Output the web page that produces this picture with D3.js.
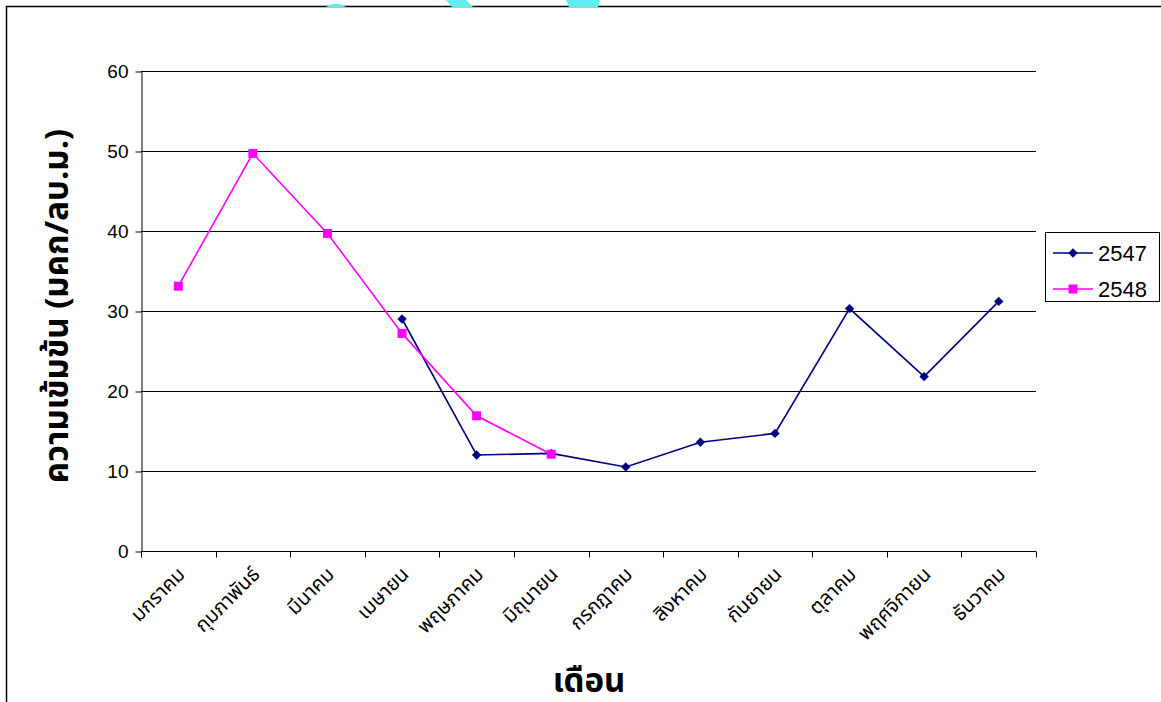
<!DOCTYPE html>
<html>
<head>
<meta charset="utf-8">
<script src="https://cdn.jsdelivr.net/npm/d3@7"></script>
<style>
  html, body { margin: 0; padding: 0; background: #fff; }
  svg { display: block; }
  text { font-family: Arial, "Liberation Sans", sans-serif; }
  .thai { font-family: Tahoma, "Noto Sans Thai", "Noto Sans", "DejaVu Sans", sans-serif; }
</style>
</head>
<body>
<svg id="chart" width="1161" height="702"></svg>
<script>
// Monthly concentration (µg/m³) for two Buddhist-era years
const months = ["มกราคม", "กุมภาพันธ์", "มีนาคม", "เมษายน", "พฤษภาคม", "มิถุนายน",
                "กรกฎาคม", "สิงหาคม", "กันยายน", "ตุลาคม", "พฤศจิกายน", "ธันวาคม"];
const values2547 = [null, null, null, 29.0, 12.0, 12.2, 10.5, 13.6, 14.7, 30.3, 21.8, 31.2];
const values2548 = [33.1, 49.7, 39.7, 27.2, 16.9, 12.1, null, null, null, null, null, null];
const yTicks = [0, 10, 20, 30, 40, 50, 60];
const seriesNames = ["2547", "2548"];

const svg = d3.select("#chart");
const plot = { left: 141, right: 1036, top: 71, bottom: 551 };

// chart area frame (extends past the right and bottom edges)
svg.append("path")
  .attr("d", "M6.5,702 V6.5 H1161")
  .attr("fill", "none").attr("stroke", "#000").attr("stroke-width", 1.5);

// faint cyan fragments along the top edge
const blobs = [
  "M326,7 Q336,0 346,7 Z",
  "M446,0 L466,0 L473,7 L452,7 Z",
  "M566,0 L600,0 L598,7 L569,7 Z"
];
svg.selectAll("path.blob").data(blobs).enter().append("path")
  .attr("class", "blob").attr("d", d => d).attr("fill", "#5eeef2");

const x = d3.scaleBand().domain(months).range([plot.left, plot.right]).padding(0);
const y = d3.scaleLinear().domain([0, 60]).range([plot.bottom, plot.top]);

// horizontal gridlines
svg.append("g").selectAll("line").data(yTicks.filter(t => t > 0)).enter().append("line")
  .attr("x1", plot.left).attr("x2", plot.right)
  .attr("y1", d => y(d) + 0.5).attr("y2", d => y(d) + 0.5)
  .attr("stroke", "#000").attr("stroke-width", 1);

// y axis
const yAxis = svg.append("g")
  .attr("transform", `translate(${plot.left + 0.5},0.5)`)
  .call(d3.axisLeft(y).tickValues(yTicks).tickSize(6).tickPadding(7).tickSizeOuter(0));
yAxis.select(".domain").attr("stroke", "#000");
yAxis.selectAll(".tick line").attr("stroke", "#000");
yAxis.selectAll(".tick text")
  .attr("font-size", 19).attr("font-family", "Arial, 'Liberation Sans', sans-serif").attr("fill", "#000");

// x axis: ticks at category boundaries
const xAxisG = svg.append("g").attr("transform", `translate(0,${plot.bottom + 0.5})`);
xAxisG.append("line").attr("x1", plot.left).attr("x2", plot.right).attr("stroke", "#000");
const boundaries = months.map(m => x(m)).concat([plot.right]);
xAxisG.selectAll("line.tk").data(boundaries).enter().append("line")
  .attr("class", "tk")
  .attr("x1", d => Math.round(d) + 0.5).attr("x2", d => Math.round(d) + 0.5)
  .attr("y1", 0).attr("y2", 6).attr("stroke", "#000");

// rotated month labels
xAxisG.selectAll("text").data(months).enter().append("text")
  .attr("class", "thai")
  .attr("transform", d => `translate(${x(d) + x.bandwidth() / 2 + 8},${24}) rotate(-45)`)
  .attr("text-anchor", "end")
  .attr("font-size", 20)
  .attr("fill", "#000")
  .text(d => d);

// axis titles
svg.append("text").attr("class", "thai")
  .attr("transform", `translate(68,306) rotate(-90)`)
  .attr("text-anchor", "middle").attr("font-size", 33).attr("font-weight", "bold")
  .text("ความเข้มข้น (มคก/ลบ.ม.)");

svg.append("text").attr("class", "thai")
  .attr("x", 589).attr("y", 692)
  .attr("text-anchor", "middle").attr("font-size", 33).attr("font-weight", "bold")
  .text("เดือน");

// series
const cx = i => x(months[i]) + x.bandwidth() / 2;
const colors = { "2547": "#000080", "2548": "#ff00ff" };
const seriesData = { "2547": values2547, "2548": values2548 };

const line = d3.line()
  .defined(d => d.v !== null)
  .x(d => cx(d.i)).y(d => y(d.v));

function drawMarker(g, name, px, py) {
  if (name === "2547") {
    g.append("path")
      .attr("d", d3.symbol().type(d3.symbolDiamond2).size(50)())
      .attr("transform", `translate(${px},${py})`)
      .attr("fill", colors[name]).attr("stroke", colors[name]).attr("stroke-width", 0.5);
  } else {
    g.append("rect")
      .attr("x", px - 4.5).attr("y", py - 4.5).attr("width", 9).attr("height", 9)
      .attr("fill", colors[name]);
  }
}

seriesNames.forEach(name => {
  const pts = seriesData[name].map((v, i) => ({ v, i }));
  const g = svg.append("g");
  g.append("path").datum(pts)
    .attr("d", line).attr("fill", "none")
    .attr("stroke", colors[name]).attr("stroke-width", 1.6);
  pts.filter(d => d.v !== null).forEach(d => drawMarker(g, name, cx(d.i), y(d.v)));
});

// legend
const lg = svg.append("g");
lg.append("rect").attr("x", 1045.5).attr("y", 232.5).attr("width", 114).attr("height", 69)
  .attr("fill", "#fff").attr("stroke", "#000").attr("stroke-width", 1);
seriesNames.forEach((name, k) => {
  const ly = 253 + k * 36;
  lg.append("line").attr("x1", 1053).attr("x2", 1093).attr("y1", ly).attr("y2", ly)
    .attr("stroke", colors[name]).attr("stroke-width", 1.6);
  drawMarker(lg, name, 1073, ly);
  lg.append("text").attr("x", 1098).attr("y", ly + 8)
    .attr("font-size", 22).attr("fill", "#000").text(name);
});
</script>
</body>
</html>
